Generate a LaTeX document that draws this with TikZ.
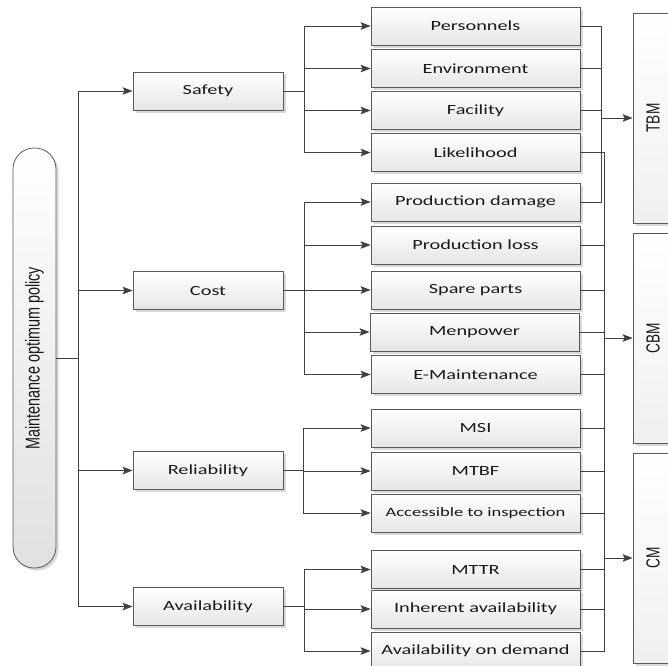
\documentclass[tikz,border=0pt]{standalone}
\usepackage{fontspec}
\usetikzlibrary{arrows.meta,shadows}

\newfontfamily\boxfont{Carlito}[FakeStretch=1.45]
\newfontfamily\sidefont{Liberation Sans}[FakeStretch=0.72]

\tikzset{
  box/.style={draw=black!65, line width=0.8pt, shading=axis, top color=white, bottom color=black!10,
    general shadow={fill=black!15, shadow xshift=2.5pt, shadow yshift=-2.5pt},
    minimum height=38pt, inner sep=0pt, text=black!90, font=\fontsize{14}{16}\boxfont},
  factor/.style={box, minimum width=150pt},
  leaf/.style={box, minimum width=209pt},
  pill/.style={box, rotate=90, minimum width=420pt, minimum height=43pt, rounded corners=21pt,
    top color=white, bottom color=black!12, font=\fontsize{20}{22}\sidefont},
  sidebox/.style={box, rotate=90, minimum width=210pt, minimum height=40pt,
    top color=white, bottom color=black!6, font=\fontsize{19}{21}\sidefont},
  link/.style={draw=black!75, line width=0.8pt},
  arr/.style={link, -{Stealth[length=10pt, width=7.5pt, inset=2pt]}}
}

\begin{document}
\begin{tikzpicture}[x=1pt, y=-1pt]
  \useasboundingbox (0,0) rectangle (668,665);

  \node[pill] (policy) at (34.5,358) {Maintenance optimum policy};

  \node[factor] (safety) at (208,91) {Safety};
  \node[factor] (cost) at (208,290.5) {Cost};
  \node[factor] (reliability) at (208,470.5) {Reliability};
  \node[factor] (availability) at (208,606.5) {Availability};

  \node[leaf] (personnels) at (475.5,26) {Personnels};
  \node[leaf] (environment) at (475.5,68.5) {Environment};
  \node[leaf] (facility) at (475.5,110.5) {Facility};
  \node[leaf] (likelihood) at (475.5,152.5) {Likelihood};
  \node[leaf] (damage) at (475.5,202) {Production damage};
  \node[leaf] (loss) at (475.5,245) {Production loss};
  \node[leaf] (spare) at (475.5,290) {Spare parts};
  \node[leaf] (menpower) at (474.5,332) {Menpower};
  \node[leaf] (emaint) at (475.5,374.5) {E-Maintenance};
  \node[leaf] (msi) at (475.5,428) {MSI};
  \node[leaf] (mtbf) at (475.5,471) {MTBF};
  \node[leaf] (access) at (475.5,513) {\fontsize{12.8}{14}\boxfont Accessible to inspection};
  \node[leaf] (mttr) at (475.5,569.5) {MTTR};
  \node[leaf] (inherent) at (475.5,609) {Inherent availability};
  \node[leaf] (demand) at (475.5,651) {Availability on demand};

  \node[sidebox] (tbm) at (653,118) {TBM};
  \node[sidebox] (cbm) at (653,338) {CBM};
  \node[sidebox] (cm) at (653,558) {CM};

  \coordinate (trunk) at (78,358);
  \coordinate (safetybus) at (304,91);
  \coordinate (costbus) at (304,290.5);
  \coordinate (reliabilitybus) at (303,470.5);
  \coordinate (availabilitybus) at (304,606.5);
  \coordinate (tbmbus) at (601.5,118);
  \coordinate (cbmbus) at (604,338);
  \coordinate (cmbus) at (604,558);

  \draw[link] (policy.south) -- (trunk);
  \foreach \f in {safety,cost,reliability,availability}
    \draw[arr] (trunk) |- (\f);

  \draw[link] (safety) -- (safetybus);
  \foreach \l in {personnels,environment,facility,likelihood}
    \draw[arr] (safetybus) |- (\l);
  \draw[link] (cost) -- (costbus);
  \foreach \l in {damage,loss,spare,menpower,emaint}
    \draw[arr] (costbus) |- (\l);
  \draw[link] (reliability) -- (reliabilitybus);
  \foreach \l in {msi,mtbf,access}
    \draw[arr] (reliabilitybus) |- (\l);
  \draw[link] (availability) -- (availabilitybus);
  \foreach \l in {mttr,inherent,demand}
    \draw[arr] (availabilitybus) |- (\l);

  \foreach \l in {personnels,environment,facility,damage}
    \draw[link] (\l) -| (tbmbus);
  \foreach \l in {likelihood,loss,spare,menpower,emaint}
    \draw[link] (\l) -| (cbmbus);
  \foreach \l in {msi,mtbf,access,mttr,inherent,demand}
    \draw[link] (\l) -| (cmbus);
  \draw[link] (cbmbus) -- (cmbus);

  \draw[arr] (tbmbus) -- (tbmbus -| tbm.north);
  \draw[arr] (cbmbus) -- (cbmbus -| cbm.north);
  \draw[arr] (cmbus) -- (cmbus -| cm.north);
\end{tikzpicture}
\end{document}
